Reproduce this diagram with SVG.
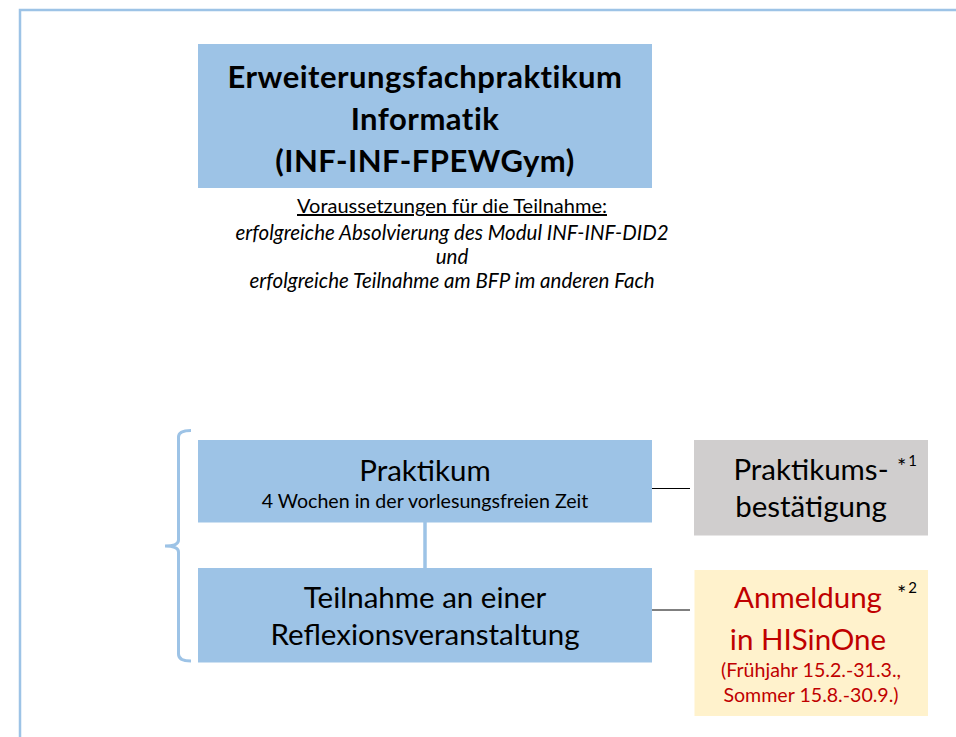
<svg xmlns="http://www.w3.org/2000/svg" width="956" height="737" viewBox="0 0 956 737">
<style>
text{font-family:Lato,"Noto Sans","Liberation Sans",sans-serif;fill:#000;text-anchor:middle}
.blue{fill:#9DC3E6}
.title{font-size:31px;font-weight:bold;letter-spacing:0.5px}
.pre{font-size:20px}
.it{font-style:italic;font-size:20.5px}
.big{font-size:29.5px}
.sub{font-size:19.6px}
.red{fill:#C00000}
.note{font-size:22px;text-anchor:start}
</style>
<rect x="20" y="10" width="960" height="760" fill="#fff" stroke="#9DC3E6" stroke-width="2.5"/>
<g id="title">
<rect class="blue" x="198" y="44" width="454" height="144"/>
<text class="title" x="425" y="88">Erweiterungsfachpraktikum</text>
<text class="title" x="425" y="130">Informatik</text>
<text class="title" x="425" y="172">(INF-INF-FPEWGym)</text>
</g>
<g id="prereq">
<text class="pre" x="452" y="213" text-decoration="underline">Voraussetzungen für die Teilnahme:</text>
<text class="pre it" x="452" y="240">erfolgreiche Absolvierung des Modul INF-INF-DID2</text>
<text class="pre it" x="452" y="264">und</text>
<text class="pre it" x="452" y="288">erfolgreiche Teilnahme am BFP im anderen Fach</text>
</g>
<g id="connectors">
<line x1="425" y1="522" x2="425" y2="568" stroke="#9DC3E6" stroke-width="3.5"/>
<line x1="650" y1="488.5" x2="690" y2="488.5" stroke="#000" stroke-width="1"/>
<line x1="650" y1="610" x2="690" y2="610" stroke="#000" stroke-width="1"/>
<path d="M191,430.5 Q178.5,430.5 178.5,437 L178.5,540 Q178.5,546 165,546 Q178.5,546 178.5,552 L178.5,654 Q178.5,661 191,661" fill="none" stroke="#9DC3E6" stroke-width="3"/>
</g>
<g id="praktikum">
<rect class="blue" x="198" y="440" width="454" height="82.5"/>
<text class="big" x="425" y="481">Praktikum</text>
<text class="sub" x="425" y="508">4 Wochen in der vorlesungsfreien Zeit</text>
</g>
<g id="reflexion">
<rect class="blue" x="198" y="568" width="454" height="94.5"/>
<text class="big" x="425" y="608">Teilnahme an einer</text>
<text class="big" x="425" y="645">Reflexionsveranstaltung</text>
</g>
<g id="bestaetigung">
<rect x="694" y="440" width="234" height="95.5" fill="#D0CECE"/>
<text class="big" x="811" y="480">Praktikums-</text>
<text class="big" x="811" y="517">bestätigung</text>
<text class="note" x="897" y="474">*<tspan font-size="15" dx="2" dy="-8">1</tspan></text>
</g>
<g id="anmeldung">
<rect x="694.5" y="570" width="233.5" height="146" fill="#FFF2CC"/>
<text class="big red" x="808" y="608">Anmeldung</text>
<text class="big red" x="808" y="650">in HISinOne</text>
<text class="sub red" x="811" y="677">(Frühjahr 15.2.-31.3.,</text>
<text class="sub red" x="811" y="702">Sommer 15.8.-30.9.)</text>
<text class="note" x="897" y="601">*<tspan font-size="15" dx="2" dy="-8">2</tspan></text>
</g>
</svg>
